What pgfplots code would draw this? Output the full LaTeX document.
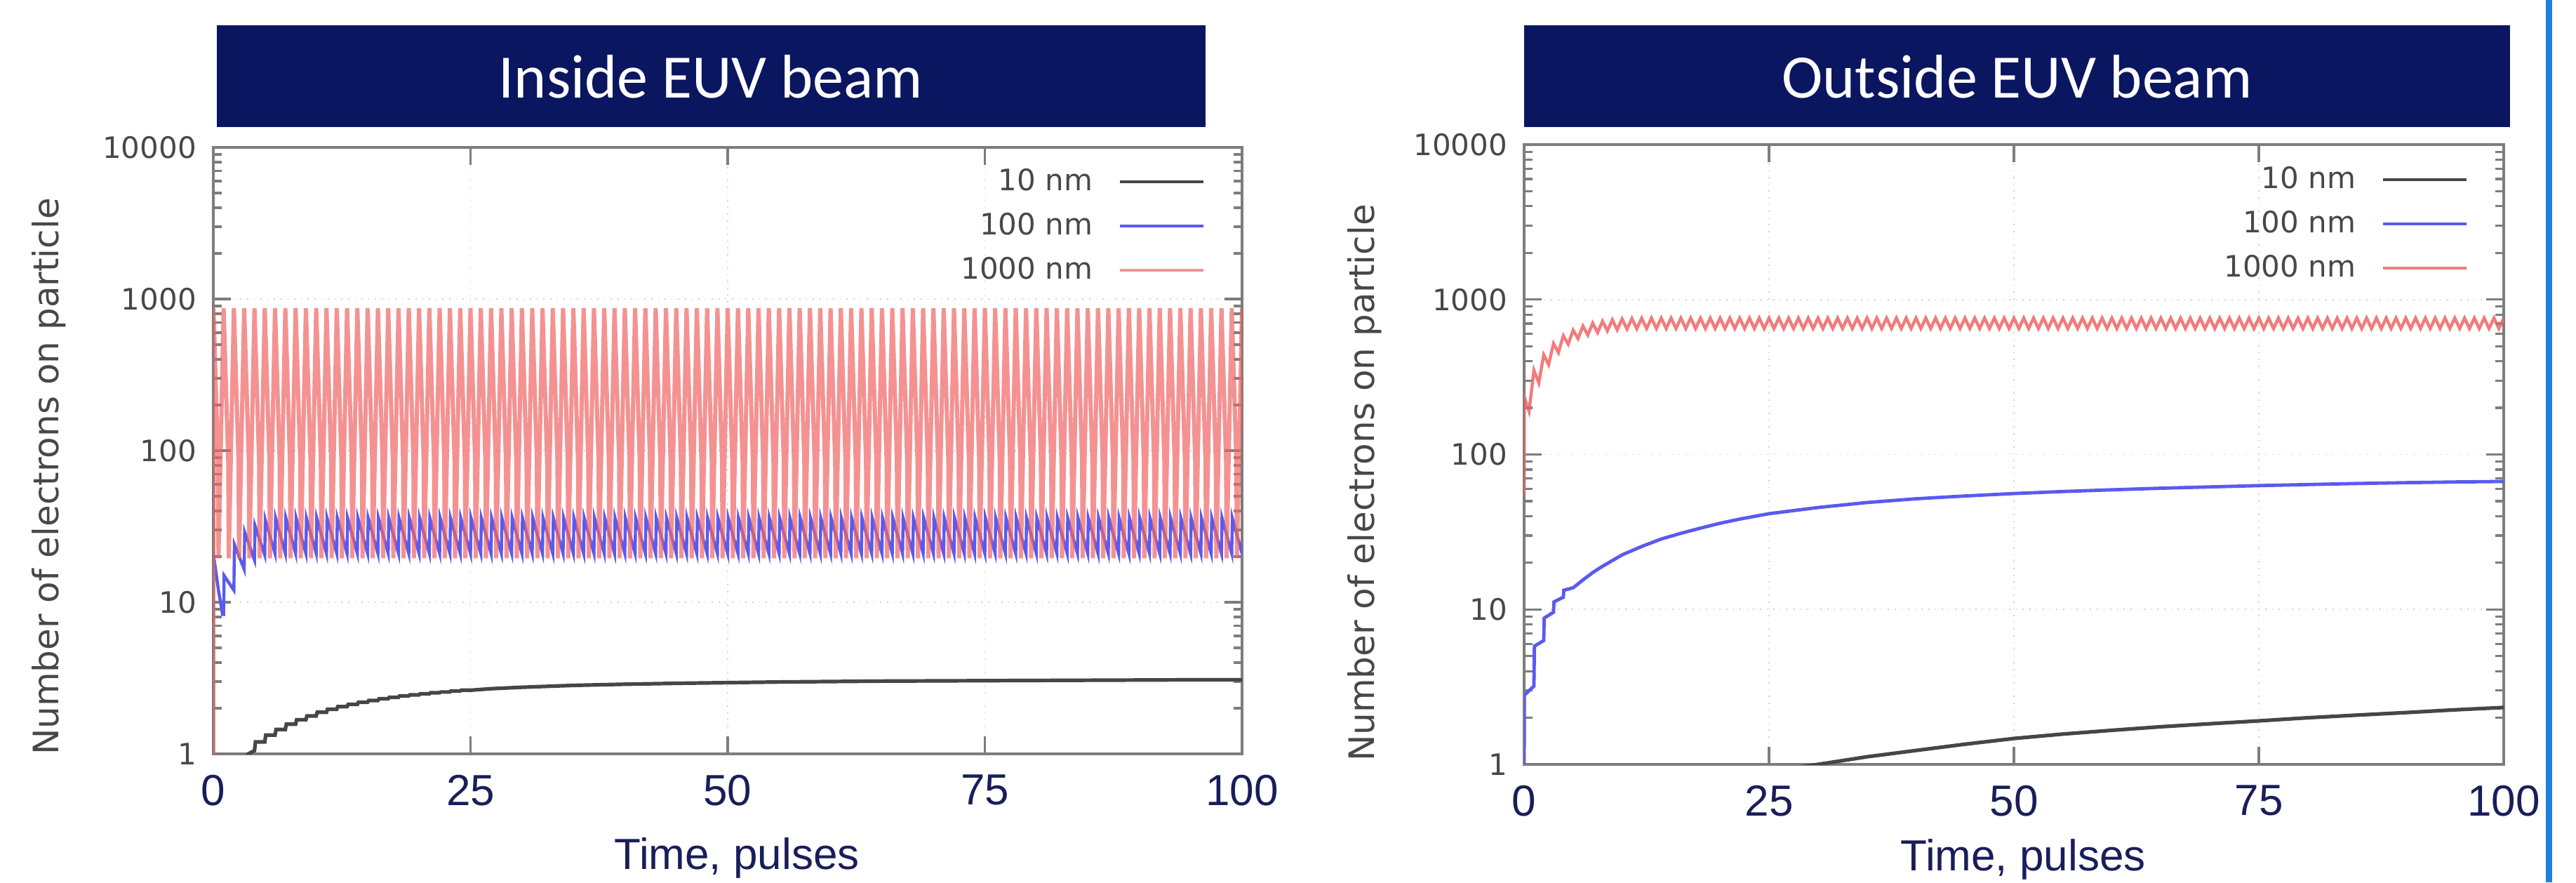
\documentclass[border=0pt]{standalone}
\usepackage{pgfplots}
\pgfplotsset{compat=1.18}
\usepackage{fontspec}
\setmainfont{Liberation Sans}
\newfontfamily\gpf{DejaVu Sans}
\newfontfamily\arialf{Liberation Sans}
\newfontfamily\calibf{Carlito}
\definecolor{titlenavy}{RGB}{11,22,96}
\definecolor{xnavy}{RGB}{25,30,90}
\definecolor{gptext}{RGB}{72,72,72}
\definecolor{framegray}{RGB}{125,125,125}
\definecolor{edgeblue}{RGB}{31,128,226}
\definecolor{cblack}{RGB}{70,70,70}
\definecolor{cblue}{RGB}{90,90,240}
\definecolor{cred}{RGB}{240,100,100}
\begin{document}
\begin{tikzpicture}
\fill[white] (0pt,0pt) rectangle (917.75pt,-314.25pt);
\path[use as bounding box] (0pt,0pt) rectangle (917.75pt,-314.25pt);

% ---------------- Left panel: Inside EUV beam ----------------
\begin{axis}[at={(76pt,-268.5pt)}, width=366.5pt, height=216pt,
    scale only axis, anchor=south west,
    ymode=log, xmin=0, xmax=100, ymin=1, ymax=10000,
    xtick={0,25,50,75,100}, xticklabels={0,25,50,75,100},
    ytick={1,10,100,1000,10000}, yticklabels={1,10,100,1000,10000},
    minor ytick={2,3,4,5,6,7,8,9,20,30,40,50,60,70,80,90,200,300,400,500,600,700,800,900,2000,3000,4000,5000,6000,7000,8000,9000},
    tick align=inside, major tick length=6.25pt, minor tick length=3pt,
    axis line style={draw=framegray, line width=1pt},
    tick style={draw=framegray, line width=0.8pt},
    grid=major, major grid style={dotted, gray!35, line width=0.4pt},
    xticklabel style={font=\arialf\fontsize{15.5pt}{17pt}\selectfont, text=xnavy},
    yticklabel style={font=\gpf\fontsize{10.5pt}{12pt}\selectfont, text=gptext},
    xticklabel shift=4pt, yticklabel shift=2.5pt,
    legend cell align=right, legend plot pos=right,
    legend image code/.code={\draw[#1, line width=1pt] (0pt,0pt) -- (29.75pt,0pt);},
    legend style={draw=none, fill=none, anchor=north east, inner sep=0pt,
      font=\gpf\fontsize{10.5pt}{12pt}\selectfont, text=gptext,
      column sep=7.25pt, row sep=2.5pt, at={(0.9645,0.975)}}]
\addplot[cblack, line width=1.3pt] coordinates {
(3,0.9)(3.4,1.0)(4,1.05)(4.1,1.2)(5,1.2)(5.1,1.33)(6,1.33)(6.1,1.45)(7,1.45)(7.1,1.57)(8,1.57)(8.1,1.68)(9,1.68)(9.1,1.78)(10,1.78)
(10.1,1.88)(11,1.88)(11.1,1.97)(12,1.97)(12.1,2.05)(13,2.05)(13.1,2.12)(14,2.12)(14.1,2.19)(15,2.19)(15.1,2.25)(16,2.25)(16.1,2.31)(17,2.31)
(17.1,2.36)(18,2.36)(18.1,2.41)(19,2.41)(19.1,2.45)(20,2.45)(20.1,2.49)(21,2.49)(21.1,2.53)(22,2.53)(22.1,2.56)(23,2.56)(23.1,2.6)(24,2.6)(24.1,2.63)(25,2.63)
(27,2.69)(30,2.75)(35,2.83)(40,2.88)(45,2.92)(50,2.95)(55,2.98)(60,3.0)(65,3.02)(70,3.03)(75,3.04)(80,3.05)(85,3.06)(90,3.07)(95,3.08)(100,3.08)
};
\addlegendentry{10 nm}
\addplot[cblue, line width=1.1pt] coordinates {
(0,21)(0.5,12)(0.9,8.3)(1,8.3)(1.05,15)(2,12)(2.05,24)(3,16.5)(3.05,29)(4,19)(4.05,32)(5,20.5)(5.05,35)(6,21)
(6.05,36)(7,21)(7.05,36)(8,21)(8.05,36)(9,21)(9.05,36)(10,21)
(10.05,36)(11,21)(11.05,36)(12,21)(12.05,36)(13,21)(13.05,36)(14,21)(14.05,36)(15,21)
(15.05,36)(16,21)(16.05,36)(17,21)(17.05,36)(18,21)(18.05,36)(19,21)(19.05,36)(20,21)
(20.05,36)(21,21)(21.05,36)(22,21)(22.05,36)(23,21)(23.05,36)(24,21)(24.05,36)(25,21)
(25.05,36)(26,21)(26.05,36)(27,21)(27.05,36)(28,21)(28.05,36)(29,21)(29.05,36)(30,21)
(30.05,36)(31,21)(31.05,36)(32,21)(32.05,36)(33,21)(33.05,36)(34,21)(34.05,36)(35,21)
(35.05,36)(36,21)(36.05,36)(37,21)(37.05,36)(38,21)(38.05,36)(39,21)(39.05,36)(40,21)
(40.05,36)(41,21)(41.05,36)(42,21)(42.05,36)(43,21)(43.05,36)(44,21)(44.05,36)(45,21)
(45.05,36)(46,21)(46.05,36)(47,21)(47.05,36)(48,21)(48.05,36)(49,21)(49.05,36)(50,21)
(50.05,36)(51,21)(51.05,36)(52,21)(52.05,36)(53,21)(53.05,36)(54,21)(54.05,36)(55,21)
(55.05,36)(56,21)(56.05,36)(57,21)(57.05,36)(58,21)(58.05,36)(59,21)(59.05,36)(60,21)
(60.05,36)(61,21)(61.05,36)(62,21)(62.05,36)(63,21)(63.05,36)(64,21)(64.05,36)(65,21)
(65.05,36)(66,21)(66.05,36)(67,21)(67.05,36)(68,21)(68.05,36)(69,21)(69.05,36)(70,21)
(70.05,36)(71,21)(71.05,36)(72,21)(72.05,36)(73,21)(73.05,36)(74,21)(74.05,36)(75,21)
(75.05,36)(76,21)(76.05,36)(77,21)(77.05,36)(78,21)(78.05,36)(79,21)(79.05,36)(80,21)
(80.05,36)(81,21)(81.05,36)(82,21)(82.05,36)(83,21)(83.05,36)(84,21)(84.05,36)(85,21)
(85.05,36)(86,21)(86.05,36)(87,21)(87.05,36)(88,21)(88.05,36)(89,21)(89.05,36)(90,21)
(90.05,36)(91,21)(91.05,36)(92,21)(92.05,36)(93,21)(93.05,36)(94,21)(94.05,36)(95,21)
(95.05,36)(96,21)(96.05,36)(97,21)(97.05,36)(98,21)(98.05,36)(99,21)(99.05,36)(100,21)
};
\addlegendentry{100 nm}
\addplot[cred, line width=1.5pt, opacity=0.7] coordinates {
(0,1)(0.02,870)
(0.45,85)(0.5,19.5)(1,870)(1.45,85)(1.5,19.5)(2,870)(2.45,85)(2.5,19.5)(3,870)(3.45,85)(3.5,19.5)(4,870)(4.45,85)(4.5,19.5)(5,870)
(5.45,85)(5.5,19.5)(6,870)(6.45,85)(6.5,19.5)(7,870)(7.45,85)(7.5,19.5)(8,870)(8.45,85)(8.5,19.5)(9,870)(9.45,85)(9.5,19.5)(10,870)
(10.45,85)(10.5,19.5)(11,870)(11.45,85)(11.5,19.5)(12,870)(12.45,85)(12.5,19.5)(13,870)(13.45,85)(13.5,19.5)(14,870)(14.45,85)(14.5,19.5)(15,870)
(15.45,85)(15.5,19.5)(16,870)(16.45,85)(16.5,19.5)(17,870)(17.45,85)(17.5,19.5)(18,870)(18.45,85)(18.5,19.5)(19,870)(19.45,85)(19.5,19.5)(20,870)
(20.45,85)(20.5,19.5)(21,870)(21.45,85)(21.5,19.5)(22,870)(22.45,85)(22.5,19.5)(23,870)(23.45,85)(23.5,19.5)(24,870)(24.45,85)(24.5,19.5)(25,870)
(25.45,85)(25.5,19.5)(26,870)(26.45,85)(26.5,19.5)(27,870)(27.45,85)(27.5,19.5)(28,870)(28.45,85)(28.5,19.5)(29,870)(29.45,85)(29.5,19.5)(30,870)
(30.45,85)(30.5,19.5)(31,870)(31.45,85)(31.5,19.5)(32,870)(32.45,85)(32.5,19.5)(33,870)(33.45,85)(33.5,19.5)(34,870)(34.45,85)(34.5,19.5)(35,870)
(35.45,85)(35.5,19.5)(36,870)(36.45,85)(36.5,19.5)(37,870)(37.45,85)(37.5,19.5)(38,870)(38.45,85)(38.5,19.5)(39,870)(39.45,85)(39.5,19.5)(40,870)
(40.45,85)(40.5,19.5)(41,870)(41.45,85)(41.5,19.5)(42,870)(42.45,85)(42.5,19.5)(43,870)(43.45,85)(43.5,19.5)(44,870)(44.45,85)(44.5,19.5)(45,870)
(45.45,85)(45.5,19.5)(46,870)(46.45,85)(46.5,19.5)(47,870)(47.45,85)(47.5,19.5)(48,870)(48.45,85)(48.5,19.5)(49,870)(49.45,85)(49.5,19.5)(50,870)
(50.45,85)(50.5,19.5)(51,870)(51.45,85)(51.5,19.5)(52,870)(52.45,85)(52.5,19.5)(53,870)(53.45,85)(53.5,19.5)(54,870)(54.45,85)(54.5,19.5)(55,870)
(55.45,85)(55.5,19.5)(56,870)(56.45,85)(56.5,19.5)(57,870)(57.45,85)(57.5,19.5)(58,870)(58.45,85)(58.5,19.5)(59,870)(59.45,85)(59.5,19.5)(60,870)
(60.45,85)(60.5,19.5)(61,870)(61.45,85)(61.5,19.5)(62,870)(62.45,85)(62.5,19.5)(63,870)(63.45,85)(63.5,19.5)(64,870)(64.45,85)(64.5,19.5)(65,870)
(65.45,85)(65.5,19.5)(66,870)(66.45,85)(66.5,19.5)(67,870)(67.45,85)(67.5,19.5)(68,870)(68.45,85)(68.5,19.5)(69,870)(69.45,85)(69.5,19.5)(70,870)
(70.45,85)(70.5,19.5)(71,870)(71.45,85)(71.5,19.5)(72,870)(72.45,85)(72.5,19.5)(73,870)(73.45,85)(73.5,19.5)(74,870)(74.45,85)(74.5,19.5)(75,870)
(75.45,85)(75.5,19.5)(76,870)(76.45,85)(76.5,19.5)(77,870)(77.45,85)(77.5,19.5)(78,870)(78.45,85)(78.5,19.5)(79,870)(79.45,85)(79.5,19.5)(80,870)
(80.45,85)(80.5,19.5)(81,870)(81.45,85)(81.5,19.5)(82,870)(82.45,85)(82.5,19.5)(83,870)(83.45,85)(83.5,19.5)(84,870)(84.45,85)(84.5,19.5)(85,870)
(85.45,85)(85.5,19.5)(86,870)(86.45,85)(86.5,19.5)(87,870)(87.45,85)(87.5,19.5)(88,870)(88.45,85)(88.5,19.5)(89,870)(89.45,85)(89.5,19.5)(90,870)
(90.45,85)(90.5,19.5)(91,870)(91.45,85)(91.5,19.5)(92,870)(92.45,85)(92.5,19.5)(93,870)(93.45,85)(93.5,19.5)(94,870)(94.45,85)(94.5,19.5)(95,870)
(95.45,85)(95.5,19.5)(96,870)(96.45,85)(96.5,19.5)(97,870)(97.45,85)(97.5,19.5)(98,870)(98.45,85)(98.5,19.5)(99,870)(99.45,85)(99.5,19.5)(100,870)
};
\addlegendentry{1000 nm}
\end{axis}

% ---------------- Right panel: Outside EUV beam ----------------
\begin{axis}[at={(543pt,-272.25pt)}, width=349pt, height=220.75pt,
    scale only axis, anchor=south west,
    ymode=log, xmin=0, xmax=100, ymin=1, ymax=10000,
    xtick={0,25,50,75,100}, xticklabels={0,25,50,75,100},
    ytick={1,10,100,1000,10000}, yticklabels={1,10,100,1000,10000},
    minor ytick={2,3,4,5,6,7,8,9,20,30,40,50,60,70,80,90,200,300,400,500,600,700,800,900,2000,3000,4000,5000,6000,7000,8000,9000},
    tick align=inside, major tick length=6.25pt, minor tick length=3pt,
    axis line style={draw=framegray, line width=1pt},
    tick style={draw=framegray, line width=0.8pt},
    grid=major, major grid style={dotted, gray!35, line width=0.4pt},
    xticklabel style={font=\arialf\fontsize{15.5pt}{17pt}\selectfont, text=xnavy},
    yticklabel style={font=\gpf\fontsize{10.5pt}{12pt}\selectfont, text=gptext},
    xticklabel shift=4pt, yticklabel shift=2.5pt,
    legend cell align=right, legend plot pos=right,
    legend image code/.code={\draw[#1, line width=1pt] (0pt,0pt) -- (29.75pt,0pt);},
    legend style={draw=none, fill=none, anchor=north east, inner sep=0pt,
      font=\gpf\fontsize{10.5pt}{12pt}\selectfont, text=gptext,
      column sep=7.25pt, row sep=2.5pt, at={(0.9642,0.975)}}]
\addplot[cblack, line width=1.3pt] coordinates {
(28,0.96)(30,1)(35,1.12)(40,1.23)(45,1.35)(50,1.47)(55,1.57)(60,1.66)(65,1.75)(70,1.83)(75,1.91)(80,2.0)(85,2.08)(90,2.16)(95,2.25)(100,2.33)
};
\addlegendentry{10 nm}
\addplot[cblue, line width=1.2pt] coordinates {
(0,1)(0.02,2.8)(1,3.2)(1.05,5.8)(2,6.3)(2.05,8.8)(3,9.6)(3.05,11.2)(4,12)(4.05,13.3)(5,13.8)(6,15.5)(7,17.3)(8,19)(10,22.5)
(12,25.5)(14,28.5)(16,31)(18,33.5)(20,36)(22,38.3)(25,41.5)(30,45.5)(35,49)(40,51.8)(45,54)(50,56)(55,57.7)(60,59.2)
(65,60.6)(70,61.8)(75,63)(80,64)(85,65)(90,65.8)(95,66.5)(100,67)
};
\addlegendentry{100 nm}
\addplot[cred, line width=1.1pt, opacity=0.85] coordinates {
(0,55)(0.02,235)(0.5,190)(1,350)(1.5,290)(2,440)(2.5,380)(3,520)(3.5,455)(4,585)(4.5,515)(5,635)(5.5,560)(6,675)(6.5,590)
(7,705)(7.5,612)(8,725)(8.5,628)(9,740)(9.5,638)(10,750)(10.5,645)(11,755)(11.5,648)(12,758)(12.5,650)
(13,760)(13.5,650)(14,760)(14.5,650)(15,760)(15.5,650)(16,760)(16.5,650)(17,760)(17.5,650)(18,760)(18.5,650)(19,760)(19.5,650)
(20,760)(20.5,650)(21,760)(21.5,650)(22,760)(22.5,650)(23,760)(23.5,650)(24,760)(24.5,650)(25,760)(25.5,650)(26,760)(26.5,650)
(27,760)(27.5,650)(28,760)(28.5,650)(29,760)(29.5,650)(30,760)(30.5,650)(31,760)(31.5,650)(32,760)(32.5,650)(33,760)(33.5,650)
(34,760)(34.5,650)(35,760)(35.5,650)(36,760)(36.5,650)(37,760)(37.5,650)(38,760)(38.5,650)(39,760)(39.5,650)(40,760)(40.5,650)
(41,760)(41.5,650)(42,760)(42.5,650)(43,760)(43.5,650)(44,760)(44.5,650)(45,760)(45.5,650)(46,760)(46.5,650)(47,760)(47.5,650)
(48,760)(48.5,650)(49,760)(49.5,650)(50,760)(50.5,650)(51,760)(51.5,650)(52,760)(52.5,650)(53,760)(53.5,650)(54,760)(54.5,650)
(55,760)(55.5,650)(56,760)(56.5,650)(57,760)(57.5,650)(58,760)(58.5,650)(59,760)(59.5,650)(60,760)(60.5,650)(61,760)(61.5,650)
(62,760)(62.5,650)(63,760)(63.5,650)(64,760)(64.5,650)(65,760)(65.5,650)(66,760)(66.5,650)(67,760)(67.5,650)(68,760)(68.5,650)
(69,760)(69.5,650)(70,760)(70.5,650)(71,760)(71.5,650)(72,760)(72.5,650)(73,760)(73.5,650)(74,760)(74.5,650)(75,760)(75.5,650)
(76,760)(76.5,650)(77,760)(77.5,650)(78,760)(78.5,650)(79,760)(79.5,650)(80,760)(80.5,650)(81,760)(81.5,650)(82,760)(82.5,650)
(83,760)(83.5,650)(84,760)(84.5,650)(85,760)(85.5,650)(86,760)(86.5,650)(87,760)(87.5,650)(88,760)(88.5,650)(89,760)(89.5,650)
(90,760)(90.5,650)(91,760)(91.5,650)(92,760)(92.5,650)(93,760)(93.5,650)(94,760)(94.5,650)(95,760)(95.5,650)(96,760)(96.5,650)
(97,760)(97.5,650)(98,760)(98.5,650)(99,760)(99.5,650)(100,760)
};
\addlegendentry{1000 nm}
\end{axis}

% ---------------- Title bars, labels, frame ----------------
\fill[titlenavy] (77.25pt,-9pt) rectangle (429.5pt,-45.25pt);
\fill[titlenavy] (543pt,-9pt) rectangle (894.25pt,-45.25pt);
\node[anchor=base, text=white, font=\calibf\fontsize{22pt}{26pt}\selectfont] at (253.25pt,-34.75pt) {Inside EUV beam};
\node[anchor=base, text=white, font=\calibf\fontsize{22pt}{26pt}\selectfont] at (718.6pt,-34.75pt) {Outside EUV beam};

\node[rotate=90, text=gptext, font=\gpf\fontsize{12.5pt}{15pt}\selectfont] at (17.5pt,-169.75pt) {Number of electrons on particle};
\node[rotate=90, text=gptext, font=\gpf\fontsize{12.5pt}{15pt}\selectfont] at (486.25pt,-172pt) {Number of electrons on particle};

\node[text=xnavy, font=\arialf\fontsize{15.5pt}{18pt}\selectfont] at (262.5pt,-305.5pt) {Time, pulses};
\node[text=xnavy, font=\arialf\fontsize{15.5pt}{18pt}\selectfont] at (720.75pt,-306pt) {Time, pulses};

\fill[edgeblue] (906.9pt,0pt) rectangle (909.2pt,-314.25pt);
\end{tikzpicture}
\end{document}
